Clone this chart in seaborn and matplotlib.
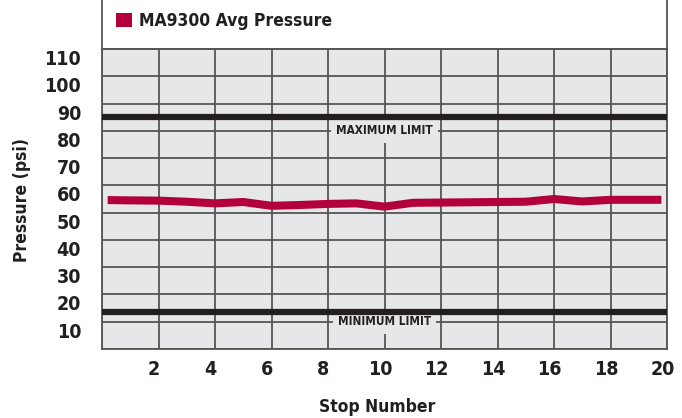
import numpy as np
import pandas as pd
import seaborn as sns
from matplotlib import pyplot as plt
from matplotlib.patches import Patch, Rectangle
from matplotlib.transforms import ScaledTranslation

# data
stops = [0.2, 1, 2, 3, 4, 5, 6, 7, 8, 9, 10, 11, 12, 13, 14, 15, 16, 17, 18, 19, 19.8]
avg_pressure = [54.6, 54.5, 54.4, 54.0, 53.4, 53.9, 52.5, 52.8, 53.2, 53.4, 52.2,
                53.6, 53.7, 53.8, 53.9, 54.0, 55.0, 54.1, 54.7, 54.7, 54.7]
max_limit = 85
min_limit = 13.5
x_ticks = list(range(0, 21, 2))
x_labels = [''] + [str(v) for v in range(2, 21, 2)]
y_ticks = list(range(0, 111, 10))
y_labels = [''] + [str(v) for v in range(10, 111, 10)]

df = pd.DataFrame({'stop': stops, 'pressure': avg_pressure})

red = '#B4003A'
dark = '#231F20'
grid = '#555555'
face = '#E6E7E9'

sns.set_theme(style='whitegrid', rc={'axes.facecolor': face, 'grid.color': grid,
                                     'grid.linewidth': 1.3, 'axes.edgecolor': grid,
                                     'axes.linewidth': 1.3})
plt.rcParams['font.family'] = ['Liberation Sans Narrow', 'DejaVu Sans']
plt.rcParams['font.stretch'] = 'condensed'
plt.rcParams['font.weight'] = 'bold'

fig = plt.figure(figsize=(6.82, 4.18), dpi=100)
ax = fig.add_axes([102 / 682, 1 - 349 / 418, 565 / 682, 300 / 418])

sns.lineplot(data=df, x='stop', y='pressure', color=red, linewidth=5.8, ax=ax,
             solid_capstyle='butt', zorder=4)
# limit lines go over the label boxes so they stay unbroken
ax.axhline(max_limit, color=dark, linewidth=4.5, zorder=6)
ax.axhline(min_limit, color=dark, linewidth=4.5, zorder=6)

box = dict(boxstyle='square,pad=0.45', facecolor=face, edgecolor='none')
ax.text(10, 80, 'MAXIMUM LIMIT', ha='center', va='center', fontsize=8.5,
        color=dark, fontweight='bold', bbox=box, zorder=5)
ax.text(10, 10, 'MINIMUM LIMIT', ha='center', va='center', fontsize=8.5,
        color=dark, fontweight='bold', bbox=box, zorder=5)

ax.set_xlim(0, 20)
ax.set_ylim(0, 110)
ax.set_xticks(x_ticks)
ax.set_xticklabels(x_labels, fontsize=14, fontweight='bold', color=dark)
ax.set_yticks(y_ticks)
ax.set_yticklabels(y_labels, fontsize=14, fontweight='bold', color=dark)
ax.tick_params(axis='both', length=0)
ax.tick_params(axis='x', pad=8)
ax.tick_params(axis='y', pad=15)
ax.grid(True, zorder=1)
ax.set_axisbelow(True)

# labels sit a little off their grid lines in the original (offsets in pixels)
for lab in ax.get_yticklabels():
    lab.set_transform(lab.get_transform() + ScaledTranslation(0, -8.5 / 100, fig.dpi_scale_trans))
for lab in ax.get_xticklabels():
    lab.set_transform(lab.get_transform() + ScaledTranslation(-4.5 / 100, 0, fig.dpi_scale_trans))

ax.set_xlabel('Stop Number', fontsize=12.5, fontweight='bold', color=dark)
ax.set_ylabel('Pressure (psi)', fontsize=12.5, fontweight='bold', color=dark)
ax.xaxis.set_label_coords(0.487, -0.163)
ax.yaxis.set_label_coords(-0.125, 0.497)

# white legend strip above the plot
fig.patches.append(Rectangle((102 / 682, 1 - 49 / 418), 565 / 682, 0.2,
                             transform=fig.transFigure, facecolor='white',
                             edgecolor=grid, linewidth=1.3, zorder=-1))
handles = [Patch(facecolor=red, edgecolor='none', label='MA9300 Avg Pressure')]
leg = ax.legend(handles=handles, loc='center left', bbox_to_anchor=(0.0, 1.093),
                frameon=False, handlelength=0.9, handleheight=0.9,
                handletextpad=0.45, borderaxespad=0.4, labelcolor=dark,
                prop={'weight': 'bold', 'size': 12.5, 'stretch': 'condensed'})

fig.savefig('out.png', dpi=100)
